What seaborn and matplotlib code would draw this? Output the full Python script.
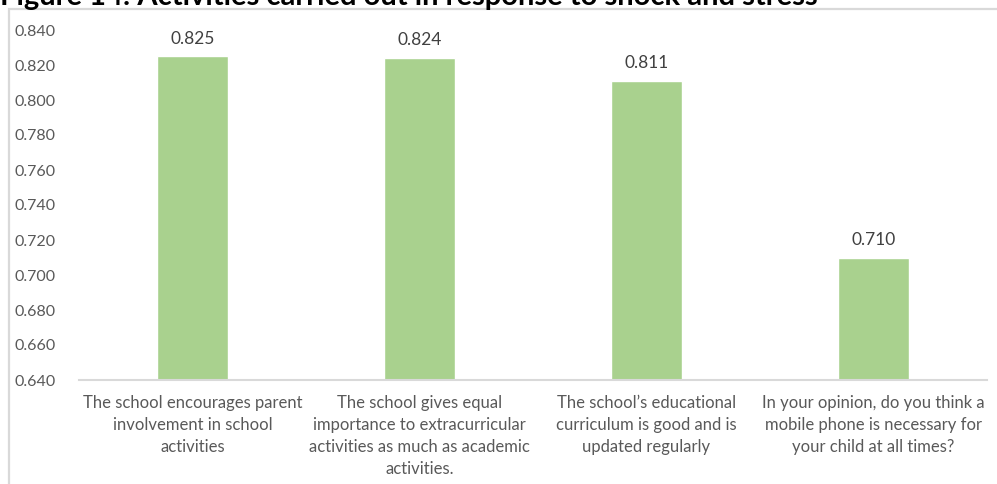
import matplotlib
matplotlib.use("Agg")
import matplotlib.pyplot as plt
from matplotlib.patches import Rectangle
import seaborn as sns
import pandas as pd

categories = [
    "The school encourages parent\ninvolvement in school\nactivities",
    "The school gives equal\nimportance to extracurricular\nactivities as much as academic\nactivities.",
    "The school\u2019s educational\ncurriculum is good and is\nupdated regularly",
    "In your opinion, do you think a\nmobile phone is necessary for\nyour child at all times?",
]
values = [0.825, 0.824, 0.811, 0.710]
y_ticks = [0.640, 0.660, 0.680, 0.700, 0.720, 0.740, 0.760, 0.780, 0.800, 0.820, 0.840]
title = "Figure 14: Activities carried out in response to shock and stress"

sns.set_theme(style="white")
plt.rcParams["font.family"] = ["Lato", "DejaVu Sans"]

df = pd.DataFrame({"item": categories, "score": values})

fig = plt.figure(figsize=(9.97, 4.84), dpi=100)
W, H = 997, 484

# chart frame (light grey border running off the right and bottom edges)
fig.patches.append(Rectangle((8.5 / W, -0.1), 1.2, 1 - 8.5 / H + 0.1,
                             transform=fig.transFigure, fill=False,
                             edgecolor="#d9d9d9", linewidth=1.6))

fig.text(0.0, 1 - 5 / H, title, ha="left", va="baseline",
         fontsize=21, fontweight="bold", color="black")

ax = fig.add_axes([79 / W, 1 - 380 / H, (987 - 79) / W, (380 - 30) / H])
sns.barplot(data=df, x="item", y="score", color="#a9d18e", width=0.31,
            saturation=1, ax=ax)
ax.set_ylim(0.640, 0.840)
ax.set_xlim(-0.5, len(categories) - 0.5)
ax.set_yticks(y_ticks)
ax.set_yticklabels([f"{t:.3f}" for t in y_ticks])
ax.set_xlabel("")
ax.set_ylabel("")
ax.tick_params(axis="y", length=0, pad=17, labelsize=11.5, labelcolor="#595959")
ax.tick_params(axis="x", length=0, pad=11, labelsize=12, labelcolor="#595959")
for lab in ax.get_xticklabels():
    lab.set_linespacing(1.45)
for side in ("left", "right", "top"):
    ax.spines[side].set_visible(False)
ax.spines["bottom"].set_color("#d9d9d9")
ax.spines["bottom"].set_linewidth(1.5)
ax.grid(False)
ax.patch.set_alpha(0)

for i, v in enumerate(values):
    ax.annotate(f"{v:.3f}", (i, v), xytext=(0, 7), textcoords="offset points",
                ha="center", va="bottom", fontsize=12.5, color="#404040")

fig.savefig("out.png", dpi=100)
